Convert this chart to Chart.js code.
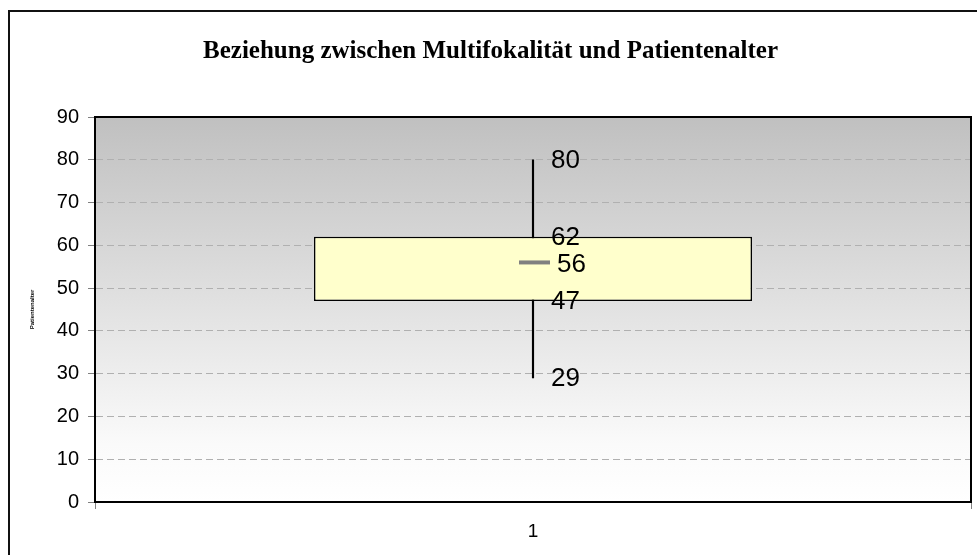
<!DOCTYPE html>
<html>
<head>
<meta charset="utf-8">
<script src="https://cdn.jsdelivr.net/npm/chart.js@4.4.1/dist/chart.umd.min.js"></script>
<style>
    html, body { margin: 0; padding: 0; background: #ffffff; overflow: hidden; }
    #wrap { position: relative; width: 977px; height: 555px; }
    #frame { position: absolute; left: 8px; top: 10px; width: 1100px; height: 700px; border: 2px solid #111; }
    #chart { position: absolute; left: 0; top: 0; }
</style>
</head>
<body>
<div id="wrap">
    <div id="frame"></div>
    <canvas id="chart" width="977" height="555"></canvas>
</div>
<script>
// Box plot values
const categories = ['1'];
const minValues = [29];
const q1Values = [47];
const medianValues = [56];
const q3Values = [62];
const maxValues = [80];

const yMin = 0;
const yMax = 90;
const yStep = 10;

const titleText = 'Beziehung zwischen Multifokalität und Patientenalter';
const yAxisTitle = 'Patientenalter';

// Gradient plot background + black frame around the plot area
const plotBackground = {
    id: 'plotBackground',
    beforeDraw(chart) {
        const { ctx, chartArea } = chart;
        const g = ctx.createLinearGradient(0, chartArea.top, 0, chartArea.bottom);
        g.addColorStop(0, '#c0c0c0');
        g.addColorStop(0.85, '#fafafa');
        g.addColorStop(1, '#ffffff');
        ctx.save();
        ctx.fillStyle = g;
        ctx.fillRect(chartArea.left, chartArea.top, chartArea.right - chartArea.left, chartArea.bottom - chartArea.top);
        ctx.restore();
    },
    afterDraw(chart) {
        const { ctx, chartArea } = chart;
        ctx.save();
        ctx.strokeStyle = '#000000';
        ctx.lineWidth = 2;
        ctx.beginPath();
        ctx.moveTo(chartArea.left, chartArea.top);
        ctx.lineTo(chartArea.right, chartArea.top);
        ctx.lineTo(chartArea.right, chartArea.bottom);
        ctx.stroke();
        ctx.restore();
    }
};

// Median mark and value labels
const boxExtras = {
    id: 'boxExtras',
    afterDatasetsDraw(chart) {
        const { ctx } = chart;
        const x = chart.scales.x;
        const y = chart.scales.y;
        ctx.save();
        categories.forEach((c, i) => {
            const cx = x.getPixelForValue(i);
            const my = y.getPixelForValue(medianValues[i]);
            ctx.strokeStyle = '#808080';
            ctx.lineWidth = 4;
            ctx.beginPath();
            ctx.moveTo(cx - 14, my);
            ctx.lineTo(cx + 17, my);
            ctx.stroke();

            ctx.fillStyle = '#000000';
            ctx.font = '26px "Liberation Sans", Arial, sans-serif';
            ctx.textAlign = 'left';
            ctx.textBaseline = 'middle';
            [maxValues[i], q3Values[i], q1Values[i], minValues[i]].forEach(v => {
                ctx.fillText(String(v), cx + 18, y.getPixelForValue(v) + 1);
            });
            ctx.fillText(String(medianValues[i]), cx + 24, my + 2);
        });
        ctx.restore();
    }
};

const ctx = document.getElementById('chart');

new Chart(ctx, {
    type: 'bar',
    data: {
        labels: categories,
        datasets: [
            {
                label: 'box',
                data: categories.map((c, i) => [q1Values[i], q3Values[i]]),
                backgroundColor: '#ffffcc',
                borderColor: '#000000',
                borderWidth: 1.5,
                borderSkipped: false,
                barPercentage: 0.5,
                categoryPercentage: 1.0,
                order: 1
            },
            {
                label: 'whisker',
                data: categories.map((c, i) => [minValues[i], maxValues[i]]),
                backgroundColor: '#000000',
                borderWidth: 0,
                barThickness: 1.5,
                order: 2
            }
        ]
    },
    options: {
        responsive: false,
        animation: false,
        events: [],
        grouped: false,
        layout: {
            padding: { left: 10, right: 6, top: 0, bottom: 0 }
        },
        plugins: {
            legend: { display: false },
            tooltip: { enabled: false },
            title: {
                display: true,
                text: titleText,
                color: '#000000',
                font: { family: '"Liberation Serif", "Times New Roman", serif', size: 25, weight: 'bold', lineHeight: 1.2 },
                padding: { top: 37, bottom: 50 }
            }
        },
        scales: {
            x: {
                afterFit(scale) { scale.height = 53; },
                grid: {
                    drawOnChartArea: false,
                    offset: true,
                    tickLength: 7,
                    tickColor: '#808080',
                    tickWidth: 1
                },
                border: { color: '#000000', width: 2 },
                ticks: {
                    color: '#000000',
                    padding: 11,
                    font: { family: '"Liberation Sans", Arial, sans-serif', size: 19 }
                }
            },
            y: {
                min: yMin,
                max: yMax,
                afterFit(scale) { scale.width = 85; },
                grid: {
                    color: c => (c.tick && (c.tick.value === yMin || c.tick.value === yMax)) ? 'rgba(0,0,0,0)' : '#b0b0b0',
                    lineWidth: 1,
                    tickLength: 7,
                    tickColor: '#808080',
                    tickBorderDash: [],
                    tickWidth: 1
                },
                border: { color: '#000000', width: 2, dash: [7, 4] },
                ticks: {
                    stepSize: yStep,
                    color: '#000000',
                    padding: 9,
                    font: { family: '"Liberation Sans", Arial, sans-serif', size: 20 }
                },
                title: {
                    display: true,
                    text: yAxisTitle,
                    color: '#000000',
                    font: { family: '"Liberation Sans", Arial, sans-serif', size: 6, weight: 'bold' },
                    padding: { top: 19, bottom: 0 }
                }
            }
        }
    },
    plugins: [plotBackground, boxExtras]
});
</script>
</body>
</html>
